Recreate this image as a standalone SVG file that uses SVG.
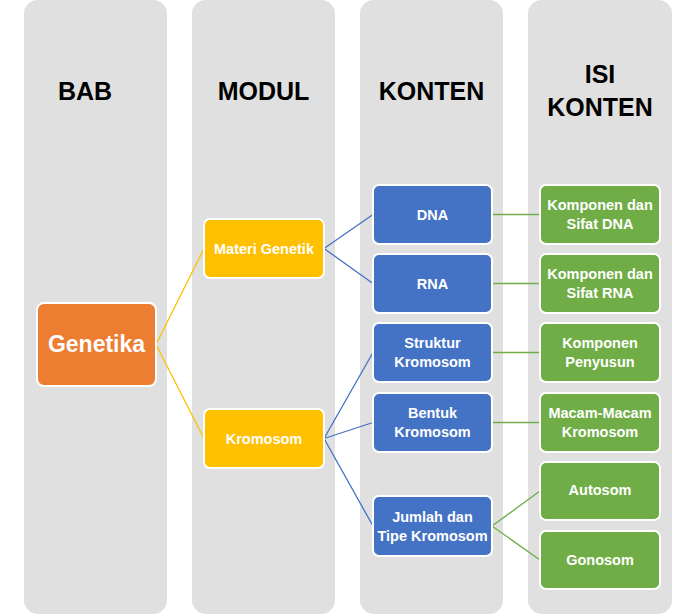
<svg xmlns="http://www.w3.org/2000/svg" width="696" height="615" viewBox="0 0 696 615">
<style>
.col{fill:#E0E0E0}
.hdr{font-family:"Liberation Sans",Arial,sans-serif;font-weight:bold;font-size:25px;fill:#000;text-anchor:middle}
.nd{stroke:#fff;stroke-width:2}
.t{font-family:"Liberation Sans",Arial,sans-serif;font-weight:bold;font-size:14.5px;fill:#fff;text-anchor:middle}
.or{fill:#ED7D31}.ye{fill:#FFC000}.bl{fill:#4472C4}.gr{fill:#70AD47}
.cy{stroke:#FFC000;stroke-width:1.3;fill:none}
.cb{stroke:#4472C4;stroke-width:1.3;fill:none}
.cg{stroke:#70AD47;stroke-width:1.3;fill:none}
</style>
<g id="columns">
<rect class="col" x="24" y="0" width="143" height="614" rx="14"/>
<rect class="col" x="192" y="0" width="143" height="614" rx="14"/>
<rect class="col" x="360" y="0" width="143" height="614" rx="14"/>
<rect class="col" x="528" y="0" width="144" height="614" rx="14"/>
<text class="hdr" x="85" y="100">BAB</text>
<text class="hdr" x="263.5" y="100">MODUL</text>
<text class="hdr" x="431.5" y="100">KONTEN</text>
<text class="hdr" x="600" y="83">ISI</text>
<text class="hdr" x="600" y="116">KONTEN</text>
</g>
<g id="connectors">
<path class="cy" d="M156,344.5 L204,248.5 M156,344.5 L204,438.5"/>
<path class="cb" d="M324,248.5 L373,214.5 M324,248.5 L373,283.5"/>
<path class="cb" d="M324,438.5 L373,352.5 M324,438.5 L373,422.5 M324,438.5 L373,526"/>
<path class="cg" d="M492,214.5 L540,214.5 M492,283.5 L540,283.5 M492,352.5 L540,352.5 M492,422.5 L540,422.5"/>
<path class="cg" d="M492,526 L540,491 M492,526 L540,560"/>
</g>
<g id="genetika"><rect class="nd or" x="37" y="303" width="119" height="83" rx="7"/><text class="t" x="96.5" y="352" style="font-size:23px">Genetika</text></g>
<g id="materi-genetik"><rect class="nd ye" x="204" y="219" width="120" height="59" rx="6"/><text class="t" x="264" y="254">Materi Genetik</text></g>
<g id="kromosom"><rect class="nd ye" x="204" y="409" width="120" height="59" rx="6"/><text class="t" x="264" y="444">Kromosom</text></g>
<g id="dna"><rect class="nd bl" x="373" y="185" width="119" height="59" rx="6"/><text class="t" x="432.5" y="219.5">DNA</text></g>
<g id="rna"><rect class="nd bl" x="373" y="254" width="119" height="59" rx="6"/><text class="t" x="432.5" y="288.5">RNA</text></g>
<g id="struktur-kromosom"><rect class="nd bl" x="373" y="323" width="119" height="59" rx="6"/><text class="t" x="432.5" y="348">Struktur</text><text class="t" x="432.5" y="367">Kromosom</text></g>
<g id="bentuk-kromosom"><rect class="nd bl" x="373" y="393" width="119" height="59" rx="6"/><text class="t" x="432.5" y="418">Bentuk</text><text class="t" x="432.5" y="437">Kromosom</text></g>
<g id="jumlah-tipe"><rect class="nd bl" x="373" y="496" width="119" height="60" rx="6"/><text class="t" x="432.5" y="521.5">Jumlah dan</text><text class="t" x="432.5" y="540.5">Tipe Kromosom</text></g>
<g id="sifat-dna"><rect class="nd gr" x="540" y="185" width="120" height="59" rx="6"/><text class="t" x="600" y="210">Komponen dan</text><text class="t" x="600" y="229">Sifat DNA</text></g>
<g id="sifat-rna"><rect class="nd gr" x="540" y="254" width="120" height="59" rx="6"/><text class="t" x="600" y="279">Komponen dan</text><text class="t" x="600" y="298">Sifat RNA</text></g>
<g id="komponen-penyusun"><rect class="nd gr" x="540" y="323" width="120" height="59" rx="6"/><text class="t" x="600" y="348">Komponen</text><text class="t" x="600" y="367">Penyusun</text></g>
<g id="macam-kromosom"><rect class="nd gr" x="540" y="393" width="120" height="59" rx="6"/><text class="t" x="600" y="418">Macam-Macam</text><text class="t" x="600" y="437">Kromosom</text></g>
<g id="autosom"><rect class="nd gr" x="540" y="462" width="120" height="58" rx="6"/><text class="t" x="600" y="495">Autosom</text></g>
<g id="gonosom"><rect class="nd gr" x="540" y="531" width="120" height="58" rx="6"/><text class="t" x="600" y="565">Gonosom</text></g>
</svg>
